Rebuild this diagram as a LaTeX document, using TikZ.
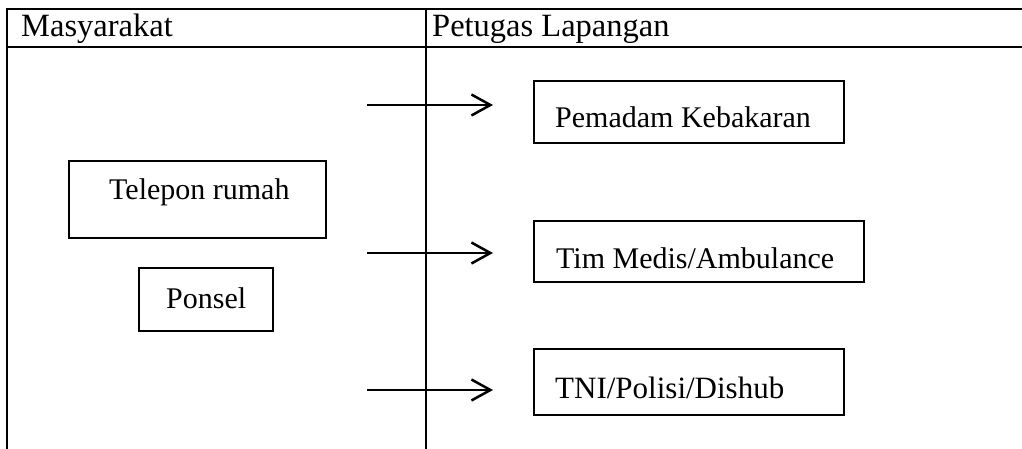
\documentclass[tikz,border=0pt]{standalone}
\usepackage{fontspec}
\setmainfont{Liberation Serif}
\usetikzlibrary{arrows.meta}
\begin{document}
\begin{tikzpicture}[x=1pt,y=-1pt,
  rule/.style={line width=2.5pt},
  box/.style={draw,line width=1.5pt,inner sep=0pt},
  lbl/.style={inner sep=0pt,anchor=base west,font=\fontsize{30pt}{36pt}\selectfont},
  head/.style={lbl,font=\fontsize{32.5pt}{38pt}\selectfont},
  flow/.style={line width=2.5pt,-{Straight Barb[length=19pt,width=21pt]}}
]
\useasboundingbox (0,0) rectangle (1022,449);
% table lines
\draw[rule] (7,449) -- (7,9) -- (1022,9);
\draw[rule] (7,47) -- (1022,47);
\draw[rule] (426,9) -- (426,449);
% headers
\node[head] (h1) at (21,37) {Masyarakat};
\node[head] (h2) at (432,37) {Petugas Lapangan};
% boxes
\node[box,minimum width=310pt,minimum height=62pt] (pk) at (689,112) {};
\node[box,minimum width=257pt,minimum height=77pt] (tr) at (197.5,199.5) {};
\node[box,minimum width=134pt,minimum height=63pt] (ps) at (206,299.5) {};
\node[box,minimum width=330pt,minimum height=61pt] (tm) at (699,251.5) {};
\node[box,minimum width=310pt,minimum height=66pt] (tn) at (689,382) {};
% texts
\node[lbl] (pkt) at (555,128) {Pemadam Kebakaran};
\node[lbl] (trt) at (109,200) {Telepon rumah};
\node[lbl] (pst) at (166,308) {Ponsel};
\node[lbl] (tmt) at (556,268) {Tim Medis/Ambulance};
\node[lbl,font=\fontsize{31pt}{36pt}\selectfont] (tnt) at (555,398) {TNI/Polisi/Dishub};
% arrows
\coordinate (a1s) at (367,105); \coordinate (a1e) at (493,105);
\coordinate (a2s) at (367,253); \coordinate (a2e) at (493,253);
\coordinate (a3s) at (367,390); \coordinate (a3e) at (493,390);
\draw[flow] (a1s) -- (a1e);
\draw[flow] (a2s) -- (a2e);
\draw[flow] (a3s) -- (a3e);
\end{tikzpicture}
\end{document}
